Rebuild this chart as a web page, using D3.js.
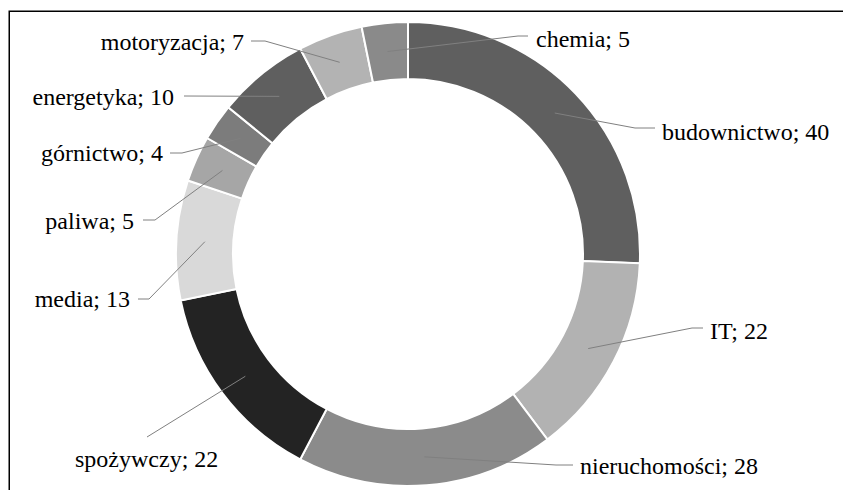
<!DOCTYPE html>
<html>
<head>
<meta charset="utf-8">
<script src="https://cdn.jsdelivr.net/npm/d3@7"></script>
<style>
  html, body { margin: 0; padding: 0; background: #fff; }
  svg { display: block; }
</style>
</head>
<body>
<svg id="chart" width="843" height="490"></svg>
<script>
// Sector names and the number of companies in each
const categories = ["budownictwo", "IT", "nieruchomości", "spożywczy", "media", "paliwa", "górnictwo", "energetyka", "motoryzacja", "chemia"];
const values = [40, 22, 28, 22, 13, 5, 4, 10, 7, 5];

// Slice fills, grey scale
const fills = ["#5f5f5f", "#b2b2b2", "#8b8b8b", "#232323", "#d9d9d9", "#a6a6a6", "#7c7c7c", "#5f5f5f", "#b3b3b3", "#8a8a8a"];

// Label placement: text anchor point, text alignment, and leader-line bend points
const labelLayout = {
  "budownictwo":   { x: 662, y: 132, anchor: "start", bends: [[635, 128], [655, 128]] },
  "IT":            { x: 710, y: 331, anchor: "start", bends: [[692, 328], [703, 328]] },
  "nieruchomości": { x: 580, y: 466, anchor: "start", bends: [[556, 465], [573, 465]] },
  "spożywczy":     { x: 75,  y: 459, anchor: "start", bends: [[147, 437]] },
  "media":         { x: 130, y: 299, anchor: "end",   bends: [[149, 299], [138, 299]] },
  "paliwa":        { x: 134, y: 221, anchor: "end",   bends: [[155, 220], [143, 220]] },
  "górnictwo":     { x: 163, y: 153, anchor: "end",   bends: [[182, 153], [170, 153]] },
  "energetyka":    { x: 174, y: 97,  anchor: "end",   bends: [[184, 96]] },
  "motoryzacja":   { x: 244, y: 42,  anchor: "end",   bends: [[265, 41], [251, 41]] },
  "chemia":        { x: 536, y: 39,  anchor: "start", bends: [[518, 36], [528, 36]] }
};

const svg = d3.select("#chart");
const cx = 408, cy = 254, rOuter = 232, rInner = 175;

// Chart area frame
svg.append("rect")
  .attr("x", 9.25).attr("y", 11.25)
  .attr("width", 860).attr("height", 500)
  .attr("fill", "none").attr("stroke", "#000").attr("stroke-width", 1.5);

const data = categories.map((c, i) => ({ name: c, value: values[i], fill: fills[i] }));

const pie = d3.pie().value(d => d.value).sort(null).startAngle(0).endAngle(2 * Math.PI);
const arc = d3.arc().innerRadius(rInner).outerRadius(rOuter);
const mid = d3.arc().innerRadius((rInner + rOuter) / 2).outerRadius((rInner + rOuter) / 2);

const g = svg.append("g").attr("transform", `translate(${cx},${cy})`);
const arcs = pie(data);

g.selectAll("path.slice")
  .data(arcs)
  .join("path")
  .attr("class", "slice")
  .attr("d", arc)
  .attr("fill", d => d.data.fill)
  .attr("stroke", "#fff")
  .attr("stroke-width", 2)
  .attr("stroke-linejoin", "miter");

// Leader lines from each slice's centroid to its label
const line = d3.line();
svg.append("g").selectAll("path.leader")
  .data(arcs)
  .join("path")
  .attr("class", "leader")
  .attr("d", d => {
    const c = mid.centroid(d);
    const pts = [[cx + c[0], cy + c[1]], ...labelLayout[d.data.name].bends];
    return line(pts);
  })
  .attr("fill", "none")
  .attr("stroke", "#808080")
  .attr("stroke-width", 1);

// Category labels with values
svg.append("g")
  .attr("font-family", "'Liberation Serif', serif")
  .attr("font-size", 24)
  .attr("fill", "#000")
  .selectAll("text")
  .data(arcs)
  .join("text")
  .attr("x", d => labelLayout[d.data.name].x)
  .attr("y", d => labelLayout[d.data.name].y)
  .attr("dy", "0.35em")
  .attr("text-anchor", d => labelLayout[d.data.name].anchor)
  .text(d => `${d.data.name}; ${d.data.value}`);
</script>
</body>
</html>
